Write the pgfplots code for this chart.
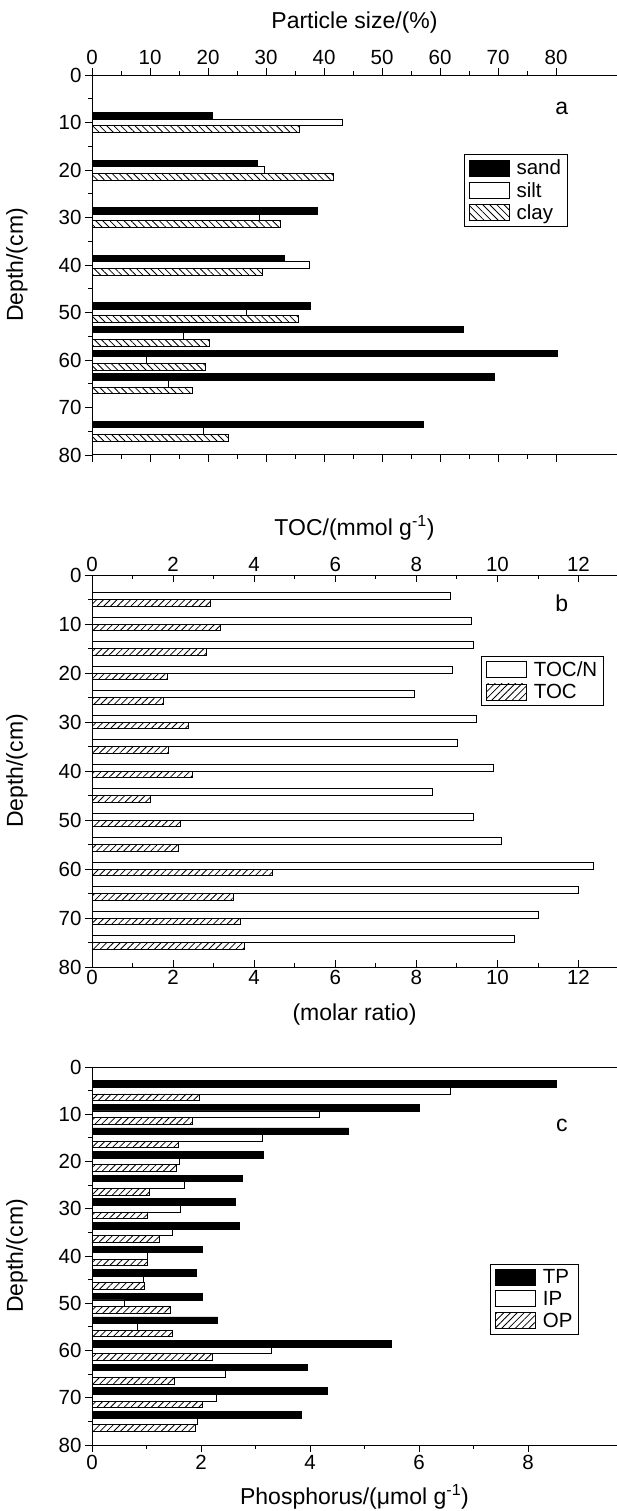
\documentclass[border=0pt]{standalone}
\usepackage{fontspec}
\setmainfont{Liberation Sans}
\usepackage{pgfplots}
\usepackage{pgfplotstable}
\pgfplotsset{compat=1.18}
\usetikzlibrary{patterns.meta}

\pgfplotstableread{
d sand silt clay
10 20.7 43.2 35.8
20 28.5 29.7 41.7
30 38.8 28.9 32.4
40 33.1 37.4 29.4
50 37.6 26.7 35.6
55 64.0 15.7 20.3
60 80.2 9.4 19.6
65 69.4 13.1 17.3
75 57.1 19.2 23.6
}\dataA

\pgfplotstableread{
d tocn toc
5 8.83 2.91
10 9.36 3.18
15 9.41 2.82
20 8.89 1.87
25 7.95 1.76
30 9.48 2.37
35 9.01 1.89
40 9.89 2.47
45 8.40 1.44
50 9.41 2.17
55 10.09 2.13
60 12.37 4.46
65 12.00 3.48
70 11.00 3.65
75 10.42 3.76
}\dataB

\pgfplotstableread{
d tp ip op
5 8.52 6.57 1.97
10 6.00 4.18 1.84
15 4.71 3.13 1.58
20 3.15 1.61 1.55
25 2.76 1.69 1.05
30 2.64 1.63 1.01
35 2.71 1.48 1.24
40 2.02 1.01 1.01
45 1.92 0.95 0.96
50 2.02 0.59 1.43
55 2.31 0.84 1.48
60 5.50 3.29 2.21
65 3.95 2.44 1.51
70 4.31 2.28 2.03
75 3.84 1.94 1.89
}\dataC

\newcommand{\tickfont}{\fontsize{20.5}{24}\selectfont}
\newcommand{\labfont}{\fontsize{23}{27}\selectfont}

\pgfplotsset{
  base/.style={
    scale only axis, width=525pt,
    xmin=0, ymin=0, ymax=80, y dir=reverse,
    ytick={0,10,...,80}, minor y tick num=1,
    separate axis lines,
    axis x line=box, axis y line=left,
    axis line style={-, line width=1pt, black},
    every tick/.style={line width=0.9pt, black},
    major tick length=7pt, minor tick length=4pt,
    tick align=outside,
    tick label style={font=\tickfont},
    /pgf/number format/assume math mode=true,
    ylabel={Depth/(cm)},
    ylabel style={at={(axis description cs:-0.143,0.5)}, anchor=center, font=\labfont},
    xbar, bar width=1.4,
    clip=false,
    legend cell align=left,
    legend image code/.code={\draw[##1, line width=0.9pt] (0pt,-8pt) rectangle (40pt,8pt);},
    legend style={draw=black, line width=0.9pt, font=\tickfont, anchor=north west,
      inner xsep=5pt, inner ysep=4pt, row sep=3pt, column sep=5pt,
      nodes={inner sep=1.5pt}},
  },
  blk/.style={fill=black, draw=black, line width=0.9pt},
  wht/.style={fill=white, draw=black, line width=0.9pt},
  hne/.style={pattern={Lines[angle=45,distance=4.8pt,line width=0.8pt]}, draw=black, line width=0.9pt},
  hnw/.style={pattern={Lines[angle=-45,distance=5pt,line width=0.8pt]}, draw=black, line width=0.9pt},
}

\begin{document}
\begin{tikzpicture}
\path[use as bounding box] (0pt,0pt) rectangle (617pt,-1511pt);

% Panel a
\begin{axis}[base, at={(92pt,-75pt)}, anchor=north west, height=380pt,
  xmax=90.5, xtick={0,10,...,80}, minor x tick num=1,
  xtick pos=both, xticklabel pos=upper,
  legend style={at={(0.708,0.792)}}]
\addplot[blk, bar shift=-1.4] table[x=sand, y=d] {\dataA};
\addplot[wht, bar shift=0] table[x=silt, y=d] {\dataA};
\addplot[hnw, bar shift=1.4] table[x=clay, y=d] {\dataA};
\legend{sand, silt, clay}
\node[font=\labfont] at (axis description cs:0.895,0.911) {a};
\node[font=\labfont] at (axis description cs:0.5,1) [yshift=52pt] {Particle size/(\%)};
\end{axis}

% Panel b
\begin{axis}[base, at={(92pt,-575pt)}, anchor=north west, height=392pt,
  xmax=12.95, xtick={0,2,...,12}, minor x tick num=1,
  xtick pos=both, xticklabel pos=lower, xtick align=inside,
  legend style={at={(0.741,0.794)}}]
\addplot[wht, bar shift=-0.7] table[x=tocn, y=d] {\dataB};
\addplot[hne, bar shift=0.7] table[x=toc, y=d] {\dataB};
\legend{TOC/N, TOC}
\node[font=\labfont] at (axis description cs:0.895,0.928) {b};
\node[font=\labfont] at (axis description cs:0.5,0) [yshift=-48pt] {(molar ratio)};
\node[font=\labfont] at (axis description cs:0.5,1) [yshift=47pt] {TOC/(mmol g\textsuperscript{-1})};
\end{axis}
\begin{axis}[scale only axis, width=525pt, height=392pt, at={(92pt,-575pt)}, anchor=north west,
  xmin=0, xmax=12.95, ymin=0, ymax=80, y dir=reverse,
  axis x line*=top, axis y line=none,
  axis line style={-, line width=1pt, black},
  every tick/.style={line width=0.9pt, black},
  major tick length=7pt, minor tick length=4pt,
  xtick={0,2,...,12}, minor x tick num=1, tick align=inside,
  xticklabel pos=upper, tick label style={font=\tickfont},
  /pgf/number format/assume math mode=true]
\end{axis}

% Panel c
\begin{axis}[base, at={(92pt,-1067pt)}, anchor=north west, height=378pt,
  xmax=9.63, xtick={0,2,...,8}, minor x tick num=1,
  xtick pos=lower, xticklabel pos=lower,
  legend style={at={(0.758,0.48)}}]
\addplot[blk, bar shift=-1.4] table[x=tp, y=d] {\dataC};
\addplot[wht, bar shift=0] table[x=ip, y=d] {\dataC};
\addplot[hne, bar shift=1.4] table[x=op, y=d] {\dataC};
\legend{TP, IP, OP}
\node[font=\labfont] at (axis description cs:0.895,0.846) {c};
\node[font=\labfont] at (axis description cs:0.5,0) [yshift=-52pt] {Phosphorus/(μmol g\textsuperscript{-1})};
\end{axis}
\end{tikzpicture}
\end{document}
